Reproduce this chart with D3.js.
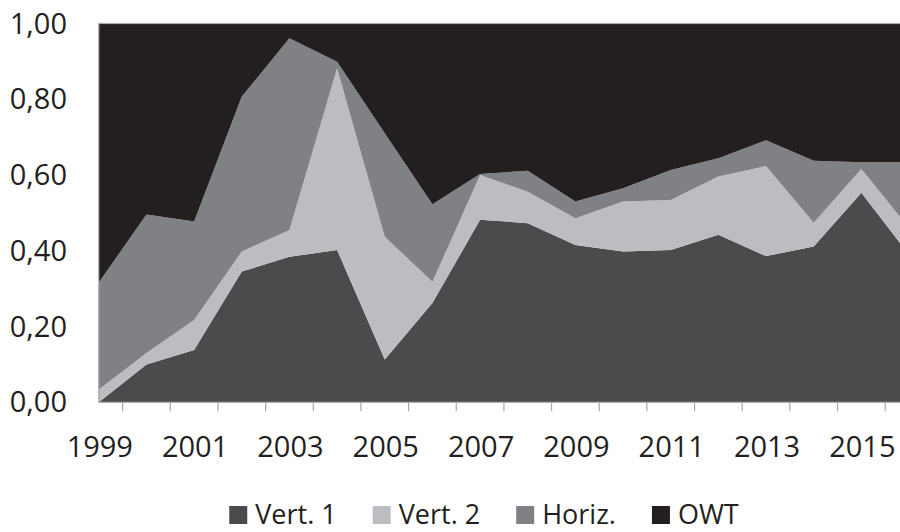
<!DOCTYPE html>
<html>
<head>
<meta charset="utf-8">
<script src="https://cdn.jsdelivr.net/npm/d3@7"></script>
<style>
  html, body { margin: 0; padding: 0; background: #fff; overflow: hidden; }
  svg { display: block; }
  text { font-family: 'Open Sans', sans-serif; fill: #231f20; }
</style>
</head>
<body>
<svg id="chart" width="900" height="532"></svg>
<script>
const years = [1999,2000,2001,2002,2003,2004,2005,2006,2007,2008,2009,2010,2011,2012,2013,2014,2015,2016];
const vert1 = [0.000,0.100,0.138,0.345,0.384,0.402,0.113,0.262,0.482,0.473,0.415,0.398,0.402,0.442,0.386,0.411,0.553,0.390];
const vert2 = [0.034,0.030,0.079,0.053,0.071,0.480,0.324,0.056,0.118,0.083,0.071,0.132,0.132,0.154,0.238,0.063,0.063,0.070];
const horiz = [0.282,0.366,0.260,0.409,0.506,0.017,0.273,0.205,0.003,0.055,0.044,0.035,0.079,0.048,0.068,0.164,0.018,0.174];
const owt   = [0.684,0.504,0.523,0.193,0.039,0.101,0.290,0.477,0.397,0.389,0.470,0.435,0.387,0.356,0.308,0.362,0.366,0.366];
const seriesNames = ["Vert. 1","Vert. 2","Horiz.","OWT"];
const yTicks = [0, 0.2, 0.4, 0.6, 0.8, 1.0];
const xLabelYears = [1999,2001,2003,2005,2007,2009,2011,2013,2015];

const colors = ["#4a4b4d","#bcbdc1","#808184","#231f20"];
const rows = years.map((yr,i) => ({year:yr, "Vert. 1":vert1[i], "Vert. 2":vert2[i], "Horiz.":horiz[i], "OWT":owt[i]}));

const svg = d3.select("#chart");
const plotLeft = 98.8, catStep = 47.66, plotTop = 23.5, plotBottom = 402.3;
const x = d3.scaleLinear().domain([years[0], years[years.length-1]]).range([plotLeft, plotLeft + catStep*(years.length-1)]);
const y = d3.scaleLinear().domain([0,1]).range([plotBottom, plotTop]);

const stacked = d3.stack().keys(seriesNames)(rows);
const area = d3.area().x(d => x(d.data.year)).y0(d => y(d[0])).y1(d => y(d[1]));

const g = svg.append("g");
g.selectAll("path.area").data(stacked).join("path")
  .attr("class","area")
  .attr("d", area)
  .attr("fill", (d,i) => colors[i]);

// plot border
const xRight = x(years[years.length-1]);
g.append("rect").attr("x", plotLeft).attr("y", plotTop).attr("width", xRight-plotLeft).attr("height", plotBottom-plotTop)
  .attr("fill","none").attr("stroke","#a7a8aa").attr("stroke-width",1.2);

// x tick marks between categories
const tickPos = years.slice(0,-1).map(yr => yr + 0.5);
g.selectAll("line.xt").data(tickPos).join("line")
  .attr("class","xt")
  .attr("x1", d => x(d)).attr("x2", d => x(d))
  .attr("y1", plotBottom).attr("y2", plotBottom + 9)
  .attr("stroke","#a7a8aa").attr("stroke-width",1.2);

// x labels
g.selectAll("text.xl").data(xLabelYears).join("text")
  .attr("class","xl")
  .attr("x", d => x(d)+1).attr("y", 456.5)
  .attr("text-anchor","middle").attr("font-size", 29)
  .text(d => d);

// y labels
const fmt = v => d3.format(".2f")(v).replace(".", ",");
g.selectAll("text.yl").data(yTicks).join("text")
  .attr("class","yl")
  .attr("x", 67).attr("y", d => y(d)).attr("dy","0.35em")
  .attr("text-anchor","end").attr("font-size", 29)
  .text(d => fmt(d));

// legend
const leg = svg.append("g");
const items = leg.selectAll("g").data(seriesNames).join("g");
items.append("rect").attr("width",18).attr("height",18).attr("y",506).attr("fill",(d,i)=>colors[i]);
items.append("text").attr("x",26).attr("y",524).attr("font-size",27).text(d=>d);
const widths = [];
items.each(function(){ widths.push(26 + d3.select(this).select("text").node().getComputedTextLength()); });
const gap = 36;
const total = d3.sum(widths) + gap*(widths.length-1);
let cx = 484 - total/2;
items.each(function(d,i){ d3.select(this).attr("transform",`translate(${cx},0)`); cx += widths[i] + gap; });
</script>
</body>
</html>
